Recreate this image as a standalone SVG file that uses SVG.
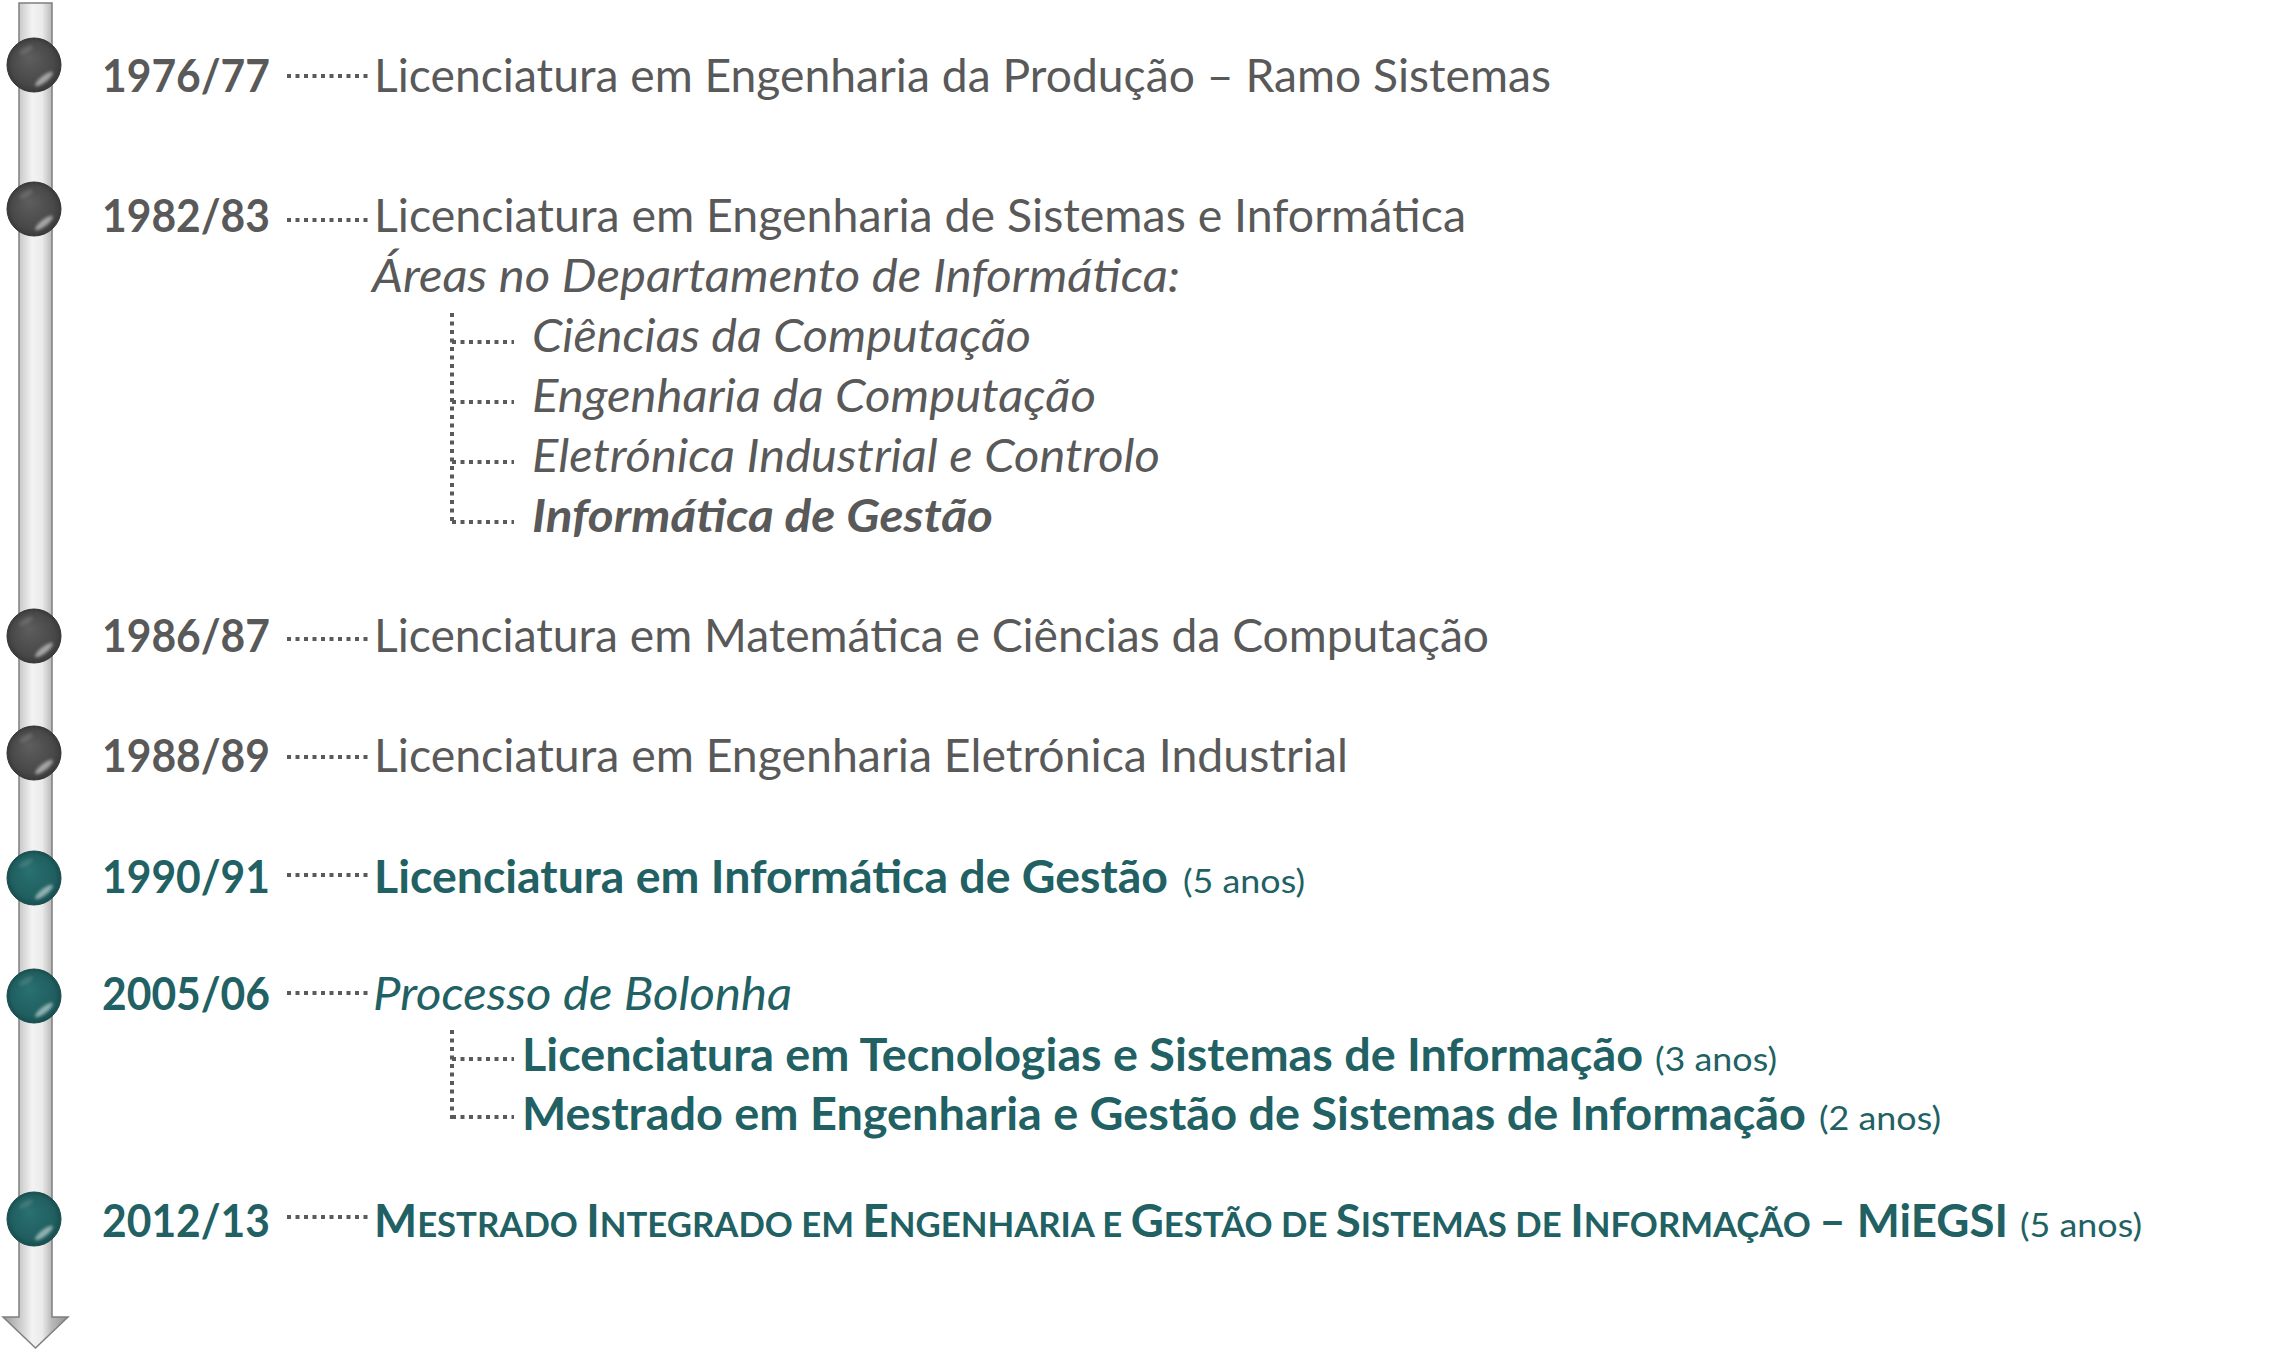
<svg xmlns="http://www.w3.org/2000/svg" width="2271" height="1351" viewBox="0 0 2271 1351">
<style>
  text { font-family: 'Lato', 'Open Sans', 'Liberation Sans', sans-serif; }
  .yr { font-size: 46px; font-weight: bold; }
  .main { font-size: 46px; }
  .it { font-style: italic; }
  .b { font-weight: bold; }
  .gray { fill: #595959; }
  .teal { fill: #216163; }
  .par { font-size: 33px; font-weight: normal; font-style: normal; }
  .sc { font-size: 35px; }
  .dot { stroke: #5a5a5a; stroke-width: 4; stroke-dasharray: 4 4.5; fill: none; }
</style>
<defs>
  <linearGradient id="barGrad" gradientUnits="userSpaceOnUse" x1="3" y1="0" x2="68" y2="0">
    <stop offset="0" stop-color="#9a9a9a"/>
    <stop offset="0.25" stop-color="#c9c9c9"/>
    <stop offset="0.45" stop-color="#f3f3f3"/>
    <stop offset="0.6" stop-color="#ebebeb"/>
    <stop offset="0.75" stop-color="#b9b9b9"/>
    <stop offset="1" stop-color="#909090"/>
  </linearGradient>
  <radialGradient id="grayBall" cx="0.5" cy="0.5" r="0.5" fx="0.4" fy="0.35">
    <stop offset="0" stop-color="#5e5e5e"/>
    <stop offset="0.8" stop-color="#484848"/>
    <stop offset="1" stop-color="#3a3a3a"/>
  </radialGradient>
  <radialGradient id="tealBall" cx="0.5" cy="0.5" r="0.5" fx="0.4" fy="0.35">
    <stop offset="0" stop-color="#2a7072"/>
    <stop offset="0.8" stop-color="#205f60"/>
    <stop offset="1" stop-color="#184e50"/>
  </radialGradient>
  <filter id="soft" x="-50%" y="-50%" width="200%" height="200%">
    <feGaussianBlur stdDeviation="1.6"/>
  </filter>
  <g id="shine">
    <ellipse cx="10" cy="14" rx="11" ry="3.2" transform="rotate(-38 10 14)" fill="#ffffff" opacity="0.5" filter="url(#soft)"/>
    <ellipse cx="-8" cy="-15" rx="8" ry="3" transform="rotate(-30 -8 -15)" fill="#ffffff" opacity="0.12" filter="url(#soft)"/>
  </g>
</defs>
<rect width="2271" height="1351" fill="#ffffff"/>

<g id="timeline-axis">
  <polygon points="19,3 52,3 52,1317 68,1317 35.5,1348 3,1317 19,1317" fill="url(#barGrad)" stroke="#7f7f7f" stroke-width="1.5" stroke-linejoin="miter"/>
</g>

<g id="connectors">
  <line class="dot" x1="287" y1="76" x2="369" y2="76"/>
  <line class="dot" x1="287" y1="220" x2="369" y2="220"/>
  <line class="dot" x1="452" y1="313" x2="452" y2="524"/>
  <line class="dot" x1="452" y1="342" x2="514" y2="342"/>
  <line class="dot" x1="452" y1="402" x2="514" y2="402"/>
  <line class="dot" x1="452" y1="462" x2="514" y2="462"/>
  <line class="dot" x1="452" y1="522" x2="514" y2="522"/>
  <line class="dot" x1="287" y1="639" x2="369" y2="639"/>
  <line class="dot" x1="287" y1="757" x2="369" y2="757"/>
  <line class="dot" x1="287" y1="875" x2="369" y2="875"/>
  <line class="dot" x1="287" y1="993" x2="369" y2="993"/>
  <line class="dot" x1="452" y1="1030" x2="452" y2="1119"/>
  <line class="dot" x1="452" y1="1059" x2="514" y2="1059"/>
  <line class="dot" x1="452" y1="1117" x2="514" y2="1117"/>
  <line class="dot" x1="287" y1="1217" x2="369" y2="1217"/>
</g>

<g id="node-1976">
  <circle cx="34" cy="65" r="27" fill="url(#grayBall)" stroke="#333333" stroke-width="1"/>
  <use href="#shine" x="34" y="65"/>
  <text class="yr gray" x="102" y="92" textLength="168" lengthAdjust="spacingAndGlyphs">1976/77</text>
  <text class="main gray" x="374" y="92" textLength="1177" lengthAdjust="spacingAndGlyphs">Licenciatura em Engenharia da Produção – Ramo Sistemas</text>
</g>

<g id="node-1982">
  <circle cx="34" cy="209" r="27" fill="url(#grayBall)" stroke="#333333" stroke-width="1"/>
  <use href="#shine" x="34" y="209"/>
  <text class="yr gray" x="102" y="232" textLength="168" lengthAdjust="spacingAndGlyphs">1982/83</text>
  <text class="main gray" x="374" y="232" textLength="1092" lengthAdjust="spacingAndGlyphs">Licenciatura em Engenharia de Sistemas e Informática</text>
  <text class="main gray it" x="372" y="292" textLength="808" lengthAdjust="spacingAndGlyphs">Áreas no Departamento de Informática:</text>
</g>
<g id="node-area-cc">
  <text class="main gray it" x="532" y="352" textLength="499" lengthAdjust="spacingAndGlyphs">Ciências da Computação</text>
</g>
<g id="node-area-ec">
  <text class="main gray it" x="532" y="412" textLength="564" lengthAdjust="spacingAndGlyphs">Engenharia da Computação</text>
</g>
<g id="node-area-eic">
  <text class="main gray it" x="532" y="472" textLength="628" lengthAdjust="spacingAndGlyphs">Eletrónica Industrial e Controlo</text>
</g>
<g id="node-area-ig">
  <text class="main gray it b" x="532" y="532" textLength="461" lengthAdjust="spacingAndGlyphs">Informática de Gestão</text>
</g>

<g id="node-1986">
  <circle cx="34" cy="636" r="27" fill="url(#grayBall)" stroke="#333333" stroke-width="1"/>
  <use href="#shine" x="34" y="636"/>
  <text class="yr gray" x="102" y="652" textLength="168" lengthAdjust="spacingAndGlyphs">1986/87</text>
  <text class="main gray" x="374" y="652" textLength="1115" lengthAdjust="spacingAndGlyphs">Licenciatura em Matemática e Ciências da Computação</text>
</g>

<g id="node-1988">
  <circle cx="34" cy="753" r="27" fill="url(#grayBall)" stroke="#333333" stroke-width="1"/>
  <use href="#shine" x="34" y="753"/>
  <text class="yr gray" x="102" y="772" textLength="168" lengthAdjust="spacingAndGlyphs">1988/89</text>
  <text class="main gray" x="374" y="772" textLength="974" lengthAdjust="spacingAndGlyphs">Licenciatura em Engenharia Eletrónica Industrial</text>
</g>

<g id="node-1990">
  <circle cx="34" cy="878" r="27" fill="url(#tealBall)" stroke="#1a4a4b" stroke-width="1"/>
  <use href="#shine" x="34" y="878"/>
  <text class="yr teal" x="102" y="893" textLength="168" lengthAdjust="spacingAndGlyphs">1990/91</text>
  <text class="main teal b" x="374" y="893" textLength="794" lengthAdjust="spacingAndGlyphs">Licenciatura em Informática de Gestão</text>
  <text class="par teal" x="1183" y="893" textLength="122" lengthAdjust="spacingAndGlyphs">(5 anos)</text>
</g>

<g id="node-2005">
  <circle cx="34" cy="996" r="27" fill="url(#tealBall)" stroke="#1a4a4b" stroke-width="1"/>
  <use href="#shine" x="34" y="996"/>
  <text class="yr teal" x="102" y="1010" textLength="168" lengthAdjust="spacingAndGlyphs">2005/06</text>
  <text class="main teal it" x="373" y="1010" textLength="419" lengthAdjust="spacingAndGlyphs">Processo de Bolonha</text>
</g>
<g id="node-ltsi">
  <text class="main teal b" x="522" y="1071" textLength="1121" lengthAdjust="spacingAndGlyphs">Licenciatura em Tecnologias e Sistemas de Informação</text>
  <text class="par teal" x="1655" y="1071" textLength="122" lengthAdjust="spacingAndGlyphs">(3 anos)</text>
</g>
<g id="node-megsi">
  <text class="main teal b" x="522" y="1130" textLength="1284" lengthAdjust="spacingAndGlyphs">Mestrado em Engenharia e Gestão de Sistemas de Informação</text>
  <text class="par teal" x="1819" y="1130" textLength="122" lengthAdjust="spacingAndGlyphs">(2 anos)</text>
</g>

<g id="node-2012">
  <circle cx="34" cy="1219" r="27" fill="url(#tealBall)" stroke="#1a4a4b" stroke-width="1"/>
  <use href="#shine" x="34" y="1219"/>
  <text class="yr teal" x="102" y="1237" textLength="168" lengthAdjust="spacingAndGlyphs">2012/13</text>
  <text class="main teal b" x="374" y="1237" textLength="1634" lengthAdjust="spacingAndGlyphs">M<tspan class="sc">ESTRADO </tspan>I<tspan class="sc">NTEGRADO EM </tspan>E<tspan class="sc">NGENHARIA E </tspan>G<tspan class="sc">ESTÃO DE </tspan>S<tspan class="sc">ISTEMAS DE </tspan>I<tspan class="sc">NFORMAÇÃO </tspan>– MiEGSI</text>
  <text class="par teal" x="2020" y="1237" textLength="122" lengthAdjust="spacingAndGlyphs">(5 anos)</text>
</g>
</svg>
